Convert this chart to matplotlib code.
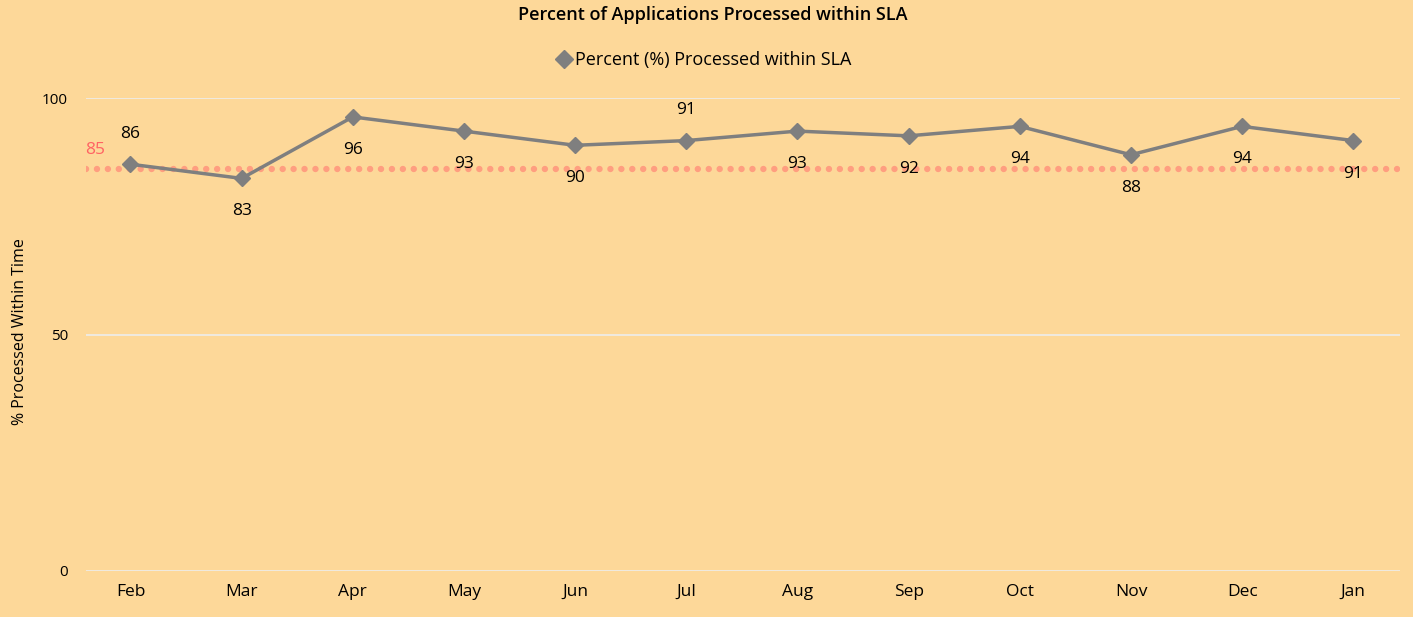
import matplotlib.pyplot as plt
from matplotlib.lines import Line2D

months = ["Feb", "Mar", "Apr", "May", "Jun", "Jul", "Aug", "Sep", "Oct", "Nov", "Dec", "Jan"]
pct_within_sla = [86, 83, 96, 93, 90, 91, 93, 92, 94, 88, 94, 91]
label_above = [True, False, False, False, False, True, False, False, False, False, False, False]
sla_target = 85
y_ticks = [0, 50, 100]

BG = "#FDD899"
LINE = "#7F7F7F"
plt.rcParams["font.family"] = ["Open Sans", "DejaVu Sans"]

fig = plt.figure(figsize=(14.13, 6.17), dpi=100, facecolor=BG)
ax = fig.add_axes([86 / 1413, 1 - 571 / 617, (1400 - 86) / 1413, (571 - 98) / 617])
ax.set_facecolor(BG)

x = list(range(len(months)))
ax.set_xlim(-0.4, 11.42)
ax.set_ylim(0, 100)

for t in y_ticks:
    ax.axhline(t, color="#EDEDED", lw=1.2, zorder=1)

# SLA target line (round dots) and its label
ax.axhline(sla_target, color="#FF9E80", lw=4.6, ls=(0, (0.01, 1.7)),
           dash_capstyle="round", zorder=2)
ax.text(-0.41, sla_target + 2.4, str(sla_target), color="#FF6363", fontsize=12.5,
        ha="left", va="bottom")

ax.plot(x, pct_within_sla, color=LINE, lw=2.5, marker="D", markersize=8,
        zorder=3, clip_on=False)

for xi, v, above in zip(x, pct_within_sla, label_above):
    if above:
        ax.annotate(str(v), (xi, v), xytext=(0, 16), textcoords="offset points",
                    ha="center", va="bottom", fontsize=12.5, color="black")
    else:
        ax.annotate(str(v), (xi, v), xytext=(0, -18), textcoords="offset points",
                    ha="center", va="top", fontsize=12.5, color="black")

ax.set_xticks(x)
ax.set_xticklabels(months, fontsize=12.5)
ax.set_yticks(y_ticks)
ax.set_yticklabels([str(t) for t in y_ticks], fontsize=11)
ax.tick_params(axis="both", length=0)
ax.tick_params(axis="x", pad=9)
ax.tick_params(axis="y", pad=13)
for s in ax.spines.values():
    s.set_visible(False)

fig.text(20 / 1413, 1 - 332 / 617, "% Processed Within Time", rotation=90,
         ha="center", va="center", fontsize=11.5)
fig.text(713 / 1413, 1 - 15 / 617, "Percent of Applications Processed within SLA",
         ha="center", va="center", fontsize=13, fontweight="semibold")

handle = Line2D([], [], color=LINE, marker="D", ls="none", markersize=9)
fig.legend([handle], ["Percent (%) Processed within SLA"], loc="center",
           bbox_to_anchor=(703 / 1413, 1 - 60 / 617), frameon=False,
           fontsize=13, handletextpad=0.1, handlelength=1.0)

fig.savefig("out.png", dpi=100, facecolor=BG)
